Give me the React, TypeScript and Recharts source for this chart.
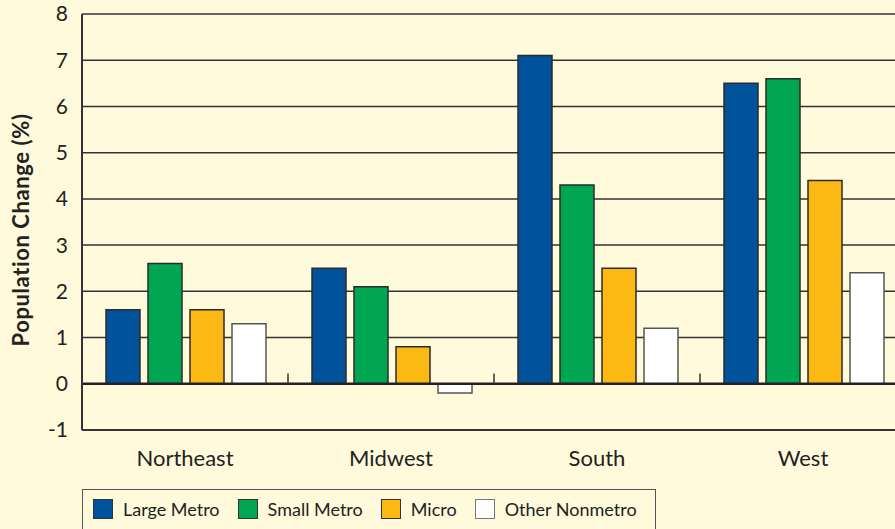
import {
  Bar,
  BarChart,
  CartesianGrid,
  ReferenceLine,
  XAxis,
  YAxis,
} from "recharts";

const regions = ["Northeast", "Midwest", "South", "West"];
const largeMetro = [1.6, 2.5, 7.1, 6.5];
const smallMetro = [2.6, 2.1, 4.3, 6.6];
const micro = [1.6, 0.8, 2.5, 4.4];
const otherNonmetro = [1.3, -0.2, 1.2, 2.4];
const yTicks = [-1, 0, 1, 2, 3, 4, 5, 6, 7, 8];
const dividers = [1, 2, 3];

const series = [
  { key: "large", name: "Large Metro", values: largeMetro, fill: "#00529B", stroke: "#2b2b2b" },
  { key: "small", name: "Small Metro", values: smallMetro, fill: "#00A651", stroke: "#2b2b2b" },
  { key: "micro", name: "Micro", values: micro, fill: "#FDB913", stroke: "#2b2b2b" },
  { key: "other", name: "Other Nonmetro", values: otherNonmetro, fill: "#FFFFFF", stroke: "#555555" },
];

const data = regions.map((name, i) => {
  const row: Record<string, string | number> = { name, idx: i + 0.5 };
  series.forEach((s) => (row[s.key] = s.values[i]));
  return row;
});

const BG = "#FFFADB";
const FONT = "Lato, 'Open Sans', sans-serif";

function LegendBox() {
  return (
    <div
      style={{
        position: "absolute",
        left: 82,
        top: 489,
        display: "flex",
        alignItems: "center",
        border: "1px solid #555",
        padding: "8px 0 10px 10px",
        background: BG,
        fontFamily: FONT,
        fontSize: 18,
        color: "#222",
      }}
    >
      {series.map((s) => (
        <div key={s.key} style={{ display: "flex", alignItems: "center", marginRight: 18 }}>
          <span
            style={{
              display: "inline-block",
              width: 18,
              height: 18,
              background: s.fill,
              border: `1px solid ${s.key === "other" ? "#777" : "#333"}`,
              marginRight: 10,
            }}
          />
          <span>{s.name}</span>
        </div>
      ))}
    </div>
  );
}

export default function App() {
  return (
    <div
      style={{
        position: "absolute",
        left: 0,
        top: 0,
        width: 895,
        height: 529,
        overflow: "hidden",
        background: BG,
      }}
    >
      <BarChart
        width={920}
        height={529}
        data={data}
        margin={{ top: 14, right: 14, left: 0, bottom: 59 }}
        barCategoryGap={24}
        barGap={8}
      >
        <CartesianGrid horizontal vertical={false} stroke="#333" strokeWidth={1.5} />
        <XAxis
          dataKey="name"
          height={40}
          tickLine={false}
          axisLine={{ stroke: "#333", strokeWidth: 2 }}
          tick={{ fill: "#222", fontSize: 22, fontFamily: FONT }}
          tickMargin={14}
        />
        <XAxis
          xAxisId="n"
          dataKey="idx"
          type="number"
          domain={[0, 4]}
          allowDataOverflow
          hide
        />
        <YAxis
          domain={[-1, 8]}
          ticks={yTicks}
          width={82}
          tickSize={0}
          tickMargin={14}
          axisLine={{ stroke: "#333", strokeWidth: 2 }}
          tick={{ fill: "#222", fontSize: 21, fontFamily: FONT }}
          label={{
            content: () => (
              <text
                x={20}
                y={230}
                transform="rotate(-90, 20, 230)"
                textAnchor="middle"
                dominantBaseline="central"
                style={{ fill: "#222", fontSize: 22, fontWeight: 700, fontFamily: FONT, letterSpacing: 0.6 }}
              >
                Population Change (%)
              </text>
            ),
          }}
        />
        <ReferenceLine y={0} stroke="#222" strokeWidth={2.5} />
        {dividers.map((d) => (
          <ReferenceLine
            key={d}
            xAxisId="n"
            segment={[
              { x: d, y: 0 },
              { x: d, y: 0.22 },
            ]}
            stroke="#333"
            strokeWidth={1.5}
          />
        ))}
        {series.map((s) => (
          <Bar
            key={s.key}
            dataKey={s.key}
            name={s.name}
            fill={s.fill}
            stroke={s.stroke}
            strokeWidth={1.5}
            isAnimationActive={false}
          />
        ))}
      </BarChart>
      <LegendBox />
    </div>
  );
}
